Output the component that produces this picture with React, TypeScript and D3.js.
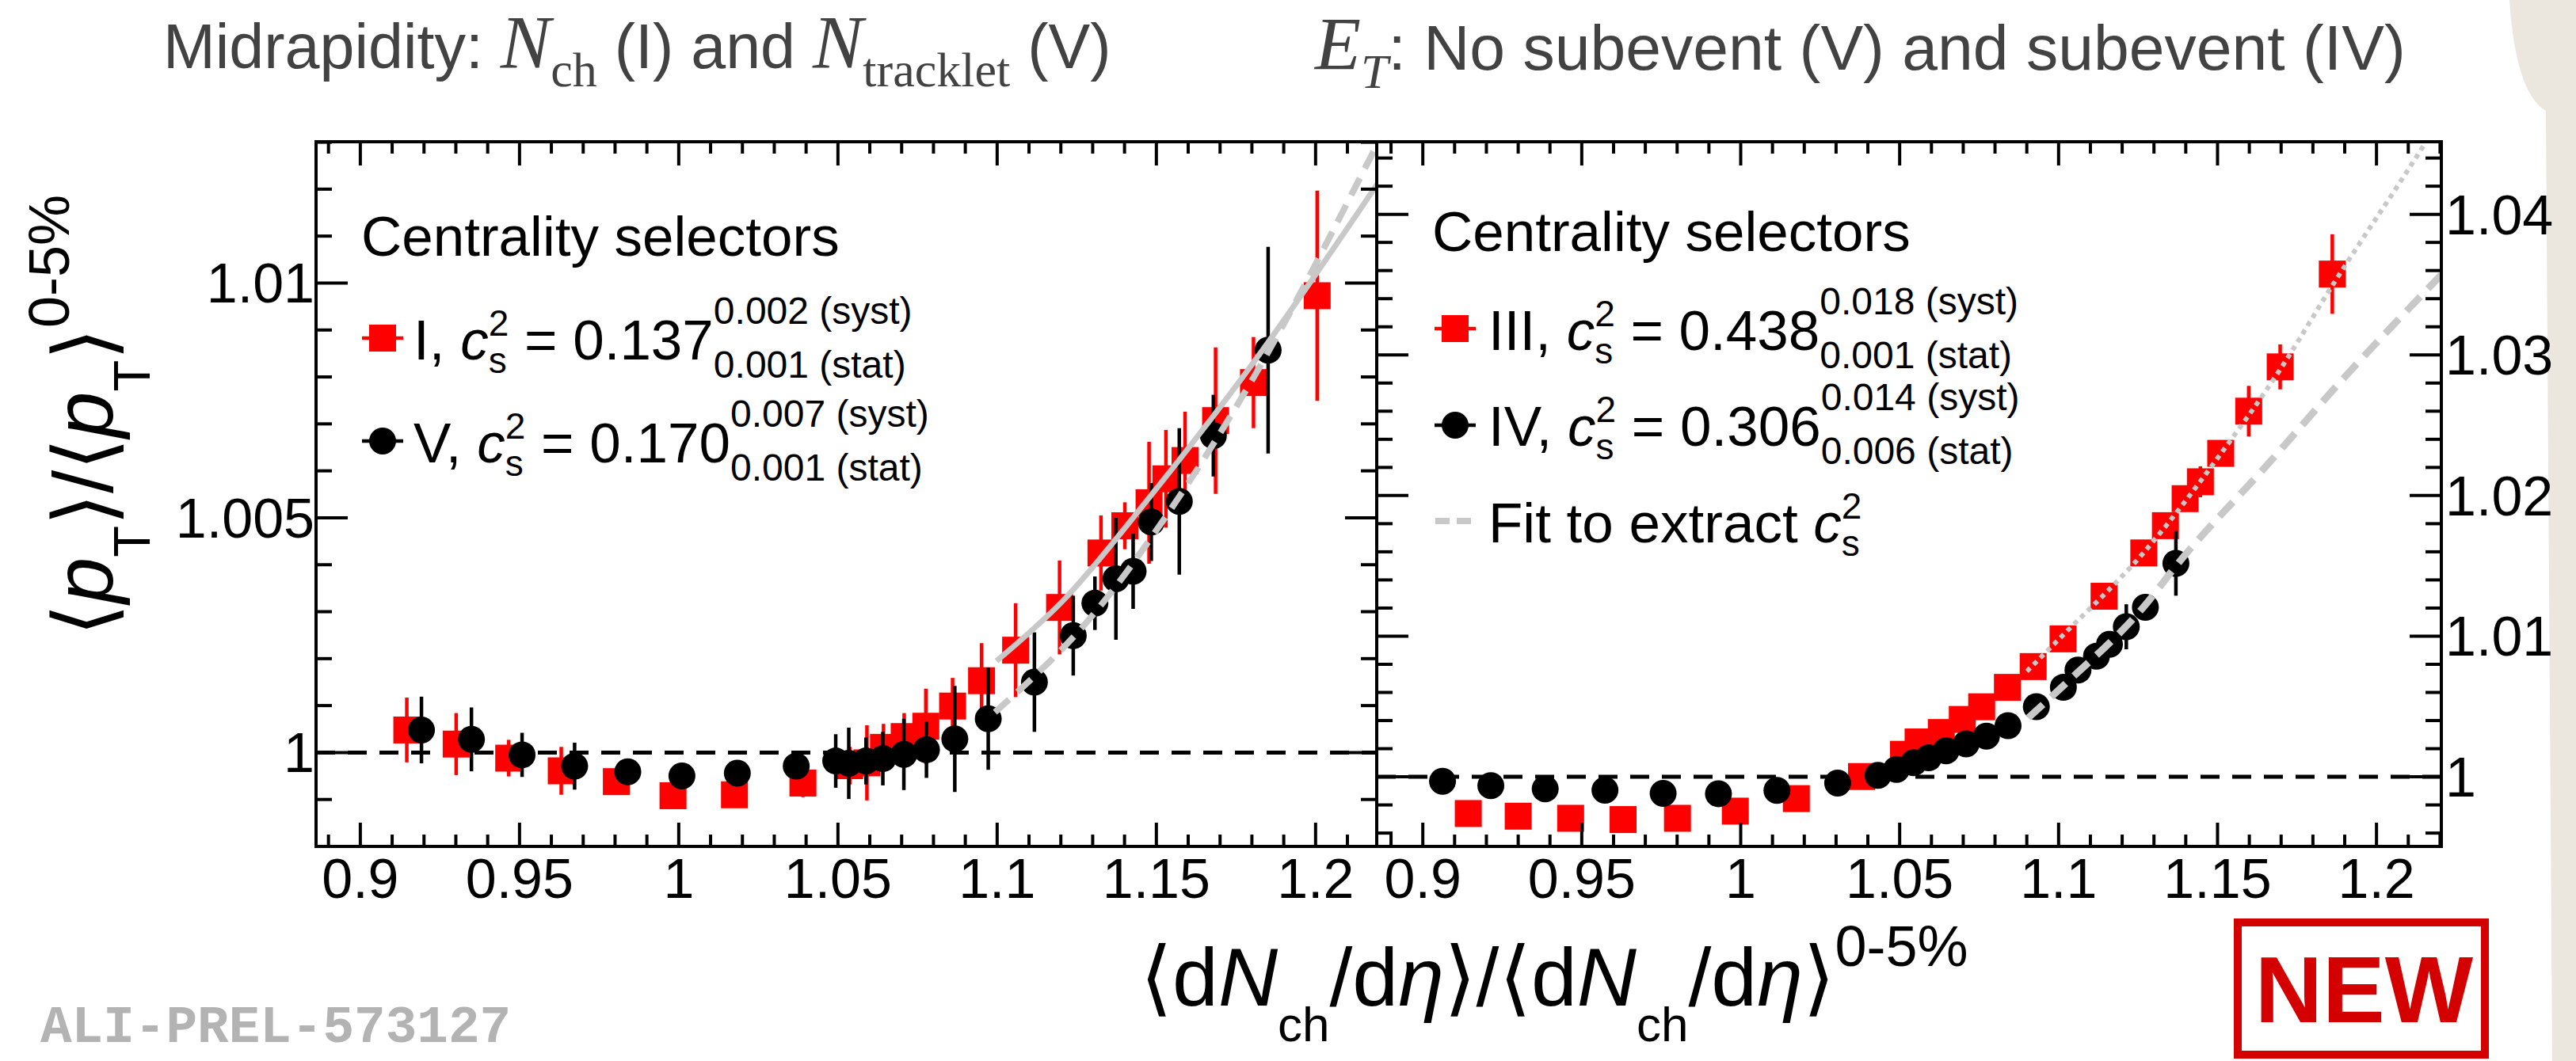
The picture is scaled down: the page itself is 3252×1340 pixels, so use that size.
import React from "react";
import * as d3 from "d3";

const SANS = "'Liberation Sans', 'DejaVu Sans', Arial, sans-serif";
const SERIF = "'Liberation Serif', 'DejaVu Serif', serif";
const MONO = "'Liberation Mono', 'DejaVu Sans Mono', monospace";

// ---------------- data ----------------
const xMajorTicks = [0.9, 0.95, 1.0, 1.05, 1.1, 1.15, 1.2];
const xTickLabels = ["0.9", "0.95", "1", "1.05", "1.1", "1.15", "1.2"];
const leftYTicks = [1.0, 1.005, 1.01];
const leftYTickLabels = ["1", "1.005", "1.01"];
const rightYTicks = [1.0, 1.01, 1.02, 1.03, 1.04];
const rightYTickLabels = ["1", "1.01", "1.02", "1.03", "1.04"];

// Left panel — selector I (red squares)
const selIx = [0.9146, 0.9301, 0.9466, 0.9631, 0.9804, 0.9982, 1.0175, 1.039, 1.0537, 1.0591, 1.0643, 1.0708, 1.0776, 1.086, 1.0951, 1.1058, 1.1196, 1.1326, 1.1401, 1.1477, 1.153, 1.159, 1.1686, 1.1805, 1.2005];
const selIy = [1.00048, 1.00018, 0.99988, 0.99961, 0.99938, 0.99908, 0.9991, 0.99935, 0.99972, 0.99978, 1.00011, 1.00034, 1.00056, 1.00099, 1.00153, 1.00218, 1.00309, 1.00425, 1.00483, 1.00532, 1.00583, 1.00622, 1.00707, 1.00788, 1.00973];
const selIerr = [0.00069, 0.00066, 0.00039, 0.00051, 0.0002, 0.0002, 0.0002, 0.0003, 0.0004, 0.0008, 0.0005, 0.0005, 0.0008, 0.0006, 0.0008, 0.001, 0.001, 0.0008, 0.0005, 0.0013, 0.00104, 0.00104, 0.00156, 0.00097, 0.00224];

// Left panel — selector V (black circles)
const selVx = [0.9192, 0.9349, 0.9508, 0.9673, 0.984, 1.001, 1.0184, 1.0369, 1.0493, 1.0534, 1.0588, 1.0641, 1.0707, 1.0778, 1.0867, 1.0972, 1.1117, 1.1239, 1.1307, 1.1373, 1.1427, 1.1484, 1.1572, 1.1679, 1.1851];
const selVy = [1.00048, 1.00028, 0.99995, 0.99971, 0.99959, 0.9995, 0.99956, 0.99971, 0.99982, 0.99977, 0.99982, 0.99987, 0.99996, 1.00006, 1.00029, 1.00072, 1.0015, 1.00249, 1.00318, 1.0037, 1.00386, 1.00491, 1.00535, 1.00675, 1.00857];
const selVerr = [0.00071, 0.00068, 0.00047, 0.0005, 0.0002, 0.0002, 0.0002, 0.0002, 0.00057, 0.00076, 0.0005, 0.00057, 0.00076, 0.0006, 0.00113, 0.00109, 0.00106, 0.00085, 0.00057, 0.0013, 0.0008, 0.00083, 0.00156, 0.00087, 0.0022];

// Right panel — selector III (red squares)
const selIIIx = [0.9143, 0.93, 0.9465, 0.963, 0.9801, 0.9983, 1.0175, 1.038, 1.0512, 1.0558, 1.0631, 1.0697, 1.0758, 1.0839, 1.092, 1.1014, 1.1143, 1.1268, 1.1336, 1.1398, 1.1446, 1.151, 1.1598, 1.1697, 1.1861];
const selIIIy = [0.99739, 0.9972, 0.99705, 0.99696, 0.99705, 0.99756, 0.99845, 1.00002, 1.0016, 1.00248, 1.00315, 1.00408, 1.00498, 1.00636, 1.00784, 1.00981, 1.01284, 1.01592, 1.01786, 1.01978, 1.02098, 1.023, 1.026, 1.02915, 1.03575];
const selIIIerr = [0.0003, 0.0003, 0.0003, 0.0003, 0.0003, 0.0003, 0.0003, 0.0003, 0.0004, 0.0004, 0.0004, 0.0004, 0.0004, 0.0005, 0.0005, 0.0006, 0.0006, 0.0008, 0.0008, 0.0008, 0.0011, 0.0009, 0.0018, 0.0016, 0.00283];

// Right panel — selector IV (black circles)
const selIVx = [0.9062, 0.9214, 0.9385, 0.9573, 0.9756, 0.993, 1.0114, 1.0305, 1.0432, 1.049, 1.0544, 1.0591, 1.0646, 1.0709, 1.0773, 1.0841, 1.093, 1.1015, 1.1061, 1.1119, 1.116, 1.1213, 1.1273, 1.1369];
const selIVy = [0.99968, 0.99937, 0.99915, 0.99905, 0.99882, 0.9988, 0.99903, 0.99955, 1.0001, 1.00052, 1.001, 1.00135, 1.00185, 1.00234, 1.00289, 1.00364, 1.00499, 1.00636, 1.00759, 1.00857, 1.00942, 1.01067, 1.01205, 1.01518];
const selIVerr = [0.0003, 0.0003, 0.0003, 0.0003, 0.0003, 0.0003, 0.0003, 0.0003, 0.0003, 0.0003, 0.0003, 0.0003, 0.0003, 0.0003, 0.0003, 0.0004, 0.0004, 0.0005, 0.0005, 0.0006, 0.0006, 0.0016, 0.0007, 0.0023];

// Fit curves
const fitIx = [1.0998, 1.1206, 1.1474, 1.1818, 1.2176, 1.2195];
const fitIy = [1.00195, 1.00323, 1.0054, 1.00843, 1.01193, 1.01212];
const fitVx = [1.0993, 1.1308, 1.1558, 1.1819, 1.2188, 1.225];
const fitVy = [1.00086, 1.00299, 1.00531, 1.00815, 1.01288, 1.0137];
const fitIIIx = [1.09, 1.1015, 1.1266, 1.1511, 1.1698, 1.1863, 1.2157, 1.222];
const fitIIIy = [1.0075, 1.0101, 1.0159, 1.023, 1.029, 1.035, 1.0452, 1.0475];
const fitIVx = [1.0905, 1.1016, 1.1272, 1.1373, 1.1657, 1.1887, 1.2204];
const fitIVy = [1.0042, 1.0065, 1.0122, 1.0151, 1.0222, 1.0281, 1.0357];

// ---------------- layout ----------------
const FR = { top: 179, bottom: 1069 };
const LP = { x0: 399, x1: 1738 };
const RP = { x0: 1738, x1: 3082 };
const RED = "#ff0000";
const FITGRAY = "#c8c8c8";

// ---------------- rich text ----------------
type Part = { t: string; size: number; dy?: number; italic?: boolean; bold?: boolean; family?: string; fill?: string };
type Seg = Part | { stack: Part[] };

let _ctx: any = null;
function textWidth(p: Part) {
  if (!_ctx) _ctx = document.createElement("canvas").getContext("2d");
  _ctx.font = `${p.italic ? "italic " : ""}${p.bold ? "bold " : ""}${p.size}px ${p.family || SANS}`;
  return _ctx.measureText(p.t).width;
}
function layout(segs: Seg[]) {
  const out: any[] = [];
  let x = 0;
  for (const s of segs) {
    if ((s as any).stack) {
      let w = 0;
      for (const p of (s as any).stack as Part[]) {
        out.push({ ...p, x });
        w = Math.max(w, textWidth(p));
      }
      x += w;
    } else {
      out.push({ ...(s as Part), x });
      x += textWidth(s as Part);
    }
  }
  return { items: out, width: x };
}
function RichText({ x, y, segs, anchor = "start", fill = "#000" }: any) {
  const { items, width } = layout(segs);
  const x0 = anchor === "middle" ? x - width / 2 : anchor === "end" ? x - width : x;
  return (
    <g>
      {items.map((p: any, i: number) => (
        <text
          key={i}
          x={x0 + p.x}
          y={y + (p.dy || 0)}
          fontSize={p.size}
          fontStyle={p.italic ? "italic" : "normal"}
          fontWeight={p.bold ? "bold" : "normal"}
          fontFamily={p.family || SANS}
          fill={p.fill || fill}
          xmlSpace="preserve"
          style={{ whiteSpace: "pre" }}
        >
          {p.t}
        </text>
      ))}
    </g>
  );
}

function Square({ cx, cy, s = 34, fill = RED }: any) {
  return <rect x={cx - s / 2} y={cy - s / 2} width={s} height={s} fill={fill} />;
}
function Dot({ cx, cy, r = 17 }: any) {
  return <circle cx={cx} cy={cy} r={r} fill="#000" />;
}

function Panel({ id, px, py, x0, x1, red, black, fits, yMajor, yLabels, yMinorStep, labelSide }: any) {
  const top = FR.top, bottom = FR.bottom;
  const [dx0, dx1] = px.domain();
  const [dy0, dy1] = py.domain();
  const xMinor = d3.range(89, 123).filter((i) => i % 5 !== 0).map((i) => i / 100).filter((v) => v > dx0 && v < dx1);
  const yMinor = d3
    .range(990, 1050)
    .filter((i) => i % yMinorStep === 0 && i % (yMinorStep * 5) !== 0)
    .map((i) => i / 1000)
    .filter((v) => v > dy0 && v < dy1);
  const lineGen = d3
    .line<number>()
    .x((d: any) => px(d[0]))
    .y((d: any) => py(d[1]))
    .curve(d3.curveMonotoneX);

  return (
    <g>
      <defs>
        <clipPath id={id}>
          <rect x={x0} y={top} width={x1 - x0} height={bottom - top} />
        </clipPath>
      </defs>
      <g clipPath={`url(#${id})`}>
        <line x1={x0} x2={x1} y1={py(1)} y2={py(1)} stroke="#000" strokeWidth={5} strokeDasharray="24 16" />
        {red.x.map((xv: number, i: number) => (
          <line key={"re" + i} x1={px(xv)} x2={px(xv)} y1={py(red.y[i] - red.e[i])} y2={py(red.y[i] + red.e[i])} stroke={RED} strokeWidth={4.5} />
        ))}
        {red.x.map((xv: number, i: number) => (
          <Square key={"rs" + i} cx={px(xv)} cy={py(red.y[i])} />
        ))}
        {black.x.map((xv: number, i: number) => (
          <line key={"be" + i} x1={px(xv)} x2={px(xv)} y1={py(black.y[i] - black.e[i])} y2={py(black.y[i] + black.e[i])} stroke="#000" strokeWidth={4.5} />
        ))}
        {black.x.map((xv: number, i: number) => (
          <Dot key={"bd" + i} cx={px(xv)} cy={py(black.y[i])} />
        ))}
        {fits.map((f: any, k: number) => (
          <path
            key={"fit" + k}
            d={lineGen(f.x.map((v: number, i: number) => [v, f.y[i]]) as any) as string}
            fill="none"
            stroke={FITGRAY}
            strokeWidth={f.w}
            strokeDasharray={f.dash}
          />
        ))}
      </g>
      {/* ticks */}
      {xMajorTicks.map((v) => (
        <g key={"xm" + v}>
          <line x1={px(v)} x2={px(v)} y1={bottom} y2={bottom - 30} stroke="#000" strokeWidth={4} />
          <line x1={px(v)} x2={px(v)} y1={top} y2={top + 30} stroke="#000" strokeWidth={4} />
        </g>
      ))}
      {xMinor.map((v) => (
        <g key={"xn" + v}>
          <line x1={px(v)} x2={px(v)} y1={bottom} y2={bottom - 15} stroke="#000" strokeWidth={4} />
          <line x1={px(v)} x2={px(v)} y1={top} y2={top + 15} stroke="#000" strokeWidth={4} />
        </g>
      ))}
      {yMajor.map((v: number) => (
        <g key={"ym" + v}>
          <line x1={x0} x2={x0 + 40} y1={py(v)} y2={py(v)} stroke="#000" strokeWidth={4} />
          <line x1={x1} x2={x1 - 40} y1={py(v)} y2={py(v)} stroke="#000" strokeWidth={4} />
        </g>
      ))}
      {yMinor.map((v: number) => (
        <g key={"yn" + v}>
          <line x1={x0} x2={x0 + 20} y1={py(v)} y2={py(v)} stroke="#000" strokeWidth={4} />
          <line x1={x1} x2={x1 - 20} y1={py(v)} y2={py(v)} stroke="#000" strokeWidth={4} />
        </g>
      ))}
      <rect x={x0} y={top} width={x1 - x0} height={bottom - top} fill="none" stroke="#000" strokeWidth={4} />
      {/* labels */}
      {xMajorTicks.map((v, i) => (
        <text key={"xl" + v} x={px(v)} y={1134} fontSize={70} fontFamily={SANS} textAnchor="middle" fill="#000">
          {xTickLabels[i]}
        </text>
      ))}
      {yMajor.map((v: number, i: number) => (
        <text
          key={"yl" + v}
          x={labelSide === "left" ? x0 - 2 : x1 + 5}
          y={py(v) + 25}
          fontSize={70}
          fontFamily={SANS}
          textAnchor={labelSide === "left" ? "end" : "start"}
          fill="#000"
        >
          {yLabels[i]}
        </text>
      ))}
    </g>
  );
}

function LegendMarker({ x, y, kind }: any) {
  const color = kind === "square" ? RED : "#000";
  return (
    <g>
      <line x1={x - 26} x2={x + 26} y1={y} y2={y} stroke={color} strokeWidth={4.5} />
      {kind === "square" ? <Square cx={x} cy={y} /> : <Dot cx={x} cy={y} />}
    </g>
  );
}

function entrySegs(name: string, val: string, up: string, down: string): Seg[] {
  return [
    { t: name + ", ", size: 71 },
    { t: "c", size: 71, italic: true },
    { stack: [{ t: "2", size: 46, dy: -30 }, { t: "s", size: 46, dy: 17 }] },
    { t: " = " + val, size: 71 },
    { stack: [{ t: up, size: 48, dy: -44.6 }, { t: down, size: 48, dy: 23.4 }] },
  ];
}

export default function App() {
  const xL = d3.scaleLinear().domain([0.8861, 1.2192]).range([LP.x0, LP.x1]);
  const yL = d3.scaleLinear().domain([0.998, 1.01301]).range([FR.bottom, FR.top]);
  const xR = d3.scaleLinear().domain([0.8855, 1.2204]).range([RP.x0, RP.x1]);
  const yR = d3.scaleLinear().domain([0.99505, 1.04516]).range([FR.bottom, FR.top]);

  const titleGray = "#424242";

  return (
    <svg width={3252} height={1340} style={{ position: "absolute", left: 0, top: 0, display: "block" }}>
      <rect x={0} y={0} width={3252} height={1340} fill="#ffffff" />
      <path d="M3168,0 L3252,0 L3252,1340 L3222,1340 L3214,140 Q3176,118 3168,0 Z" fill="#ebe6de" />

      {/* top titles */}
      <RichText
        x={206}
        y={86}
        fill={titleGray}
        segs={[
          { t: "Midrapidity: ", size: 79 },
          { t: "N", size: 95, italic: true, family: SERIF },
          { t: "ch", size: 62, dy: 23, family: SERIF },
          { t: " (I) and ", size: 79 },
          { t: "N", size: 95, italic: true, family: SERIF },
          { t: "tracklet", size: 62, dy: 23, family: SERIF },
          { t: " (V)", size: 79 },
        ]}
      />
      <RichText
        x={1660}
        y={88}
        fill={titleGray}
        segs={[
          { t: "E", size: 95, italic: true, family: SERIF },
          { t: "T", size: 62, dy: 23, italic: true, family: SERIF },
          { t: ": No subevent (V) and subevent (IV)", size: 80.5 },
        ]}
      />

      <Panel
        id="clipL"
        px={xL}
        py={yL}
        x0={LP.x0}
        x1={LP.x1}
        red={{ x: selIx, y: selIy, e: selIerr }}
        black={{ x: selVx, y: selVy, e: selVerr }}
        fits={[
          { x: fitIx, y: fitIy, w: 7, dash: null },
          { x: fitVx, y: fitVy, w: 8, dash: "24 14" },
        ]}
        yMajor={leftYTicks}
        yLabels={leftYTickLabels}
        yMinorStep={1}
        labelSide="left"
      />
      <Panel
        id="clipR"
        px={xR}
        py={yR}
        x0={RP.x0}
        x1={RP.x1}
        red={{ x: selIIIx, y: selIIIy, e: selIIIerr }}
        black={{ x: selIVx, y: selIVy, e: selIVerr }}
        fits={[
          { x: fitIIIx, y: fitIIIy, w: 6, dash: "6 6" },
          { x: fitIVx, y: fitIVy, w: 9, dash: "25 14" },
        ]}
        yMajor={rightYTicks}
        yLabels={rightYTickLabels}
        yMinorStep={2}
        labelSide="right"
      />

      {/* left legend */}
      <text x={456} y={323} fontSize={71} fontFamily={SANS} fill="#000">Centrality selectors</text>
      <LegendMarker x={483} y={427} kind="square" />
      <RichText x={522} y={453.6} segs={entrySegs("I", "0.137", "0.002 (syst)", "0.001 (stat)")} />
      <LegendMarker x={483} y={557} kind="circle" />
      <RichText x={522} y={584} segs={entrySegs("V", "0.170", "0.007 (syst)", "0.001 (stat)")} />

      {/* right legend */}
      <text x={1808} y={317} fontSize={71} fontFamily={SANS} fill="#000">Centrality selectors</text>
      <LegendMarker x={1837} y={415} kind="square" />
      <RichText x={1879} y={441.7} segs={entrySegs("III", "0.438", "0.018 (syst)", "0.001 (stat)")} />
      <LegendMarker x={1837} y={537} kind="circle" />
      <RichText x={1879} y={563} segs={entrySegs("IV", "0.306", "0.014 (syst)", "0.006 (stat)")} />
      <line x1={1812} x2={1863} y1={658} y2={658} stroke={FITGRAY} strokeWidth={8} strokeDasharray="18 9" />
      <RichText
        x={1879}
        y={685}
        segs={[
          { t: "Fit to extract ", size: 71 },
          { t: "c", size: 71, italic: true },
          { stack: [{ t: "2", size: 46, dy: -30 }, { t: "s", size: 46, dy: 17 }] },
        ]}
      />

      {/* axis titles */}
      <g transform="translate(142,524.5) rotate(-90)">
        <RichText
          x={0}
          y={0}
          anchor="middle"
          segs={[
            { t: "\u27E8", size: 105 },
            { t: "p", size: 105, italic: true },
            { t: "T", size: 65, dy: 47 },
            { t: "\u27E9/\u27E8", size: 105 },
            { t: "p", size: 105, italic: true },
            { t: "T", size: 65, dy: 47 },
            { t: "\u27E9", size: 105 },
            { t: "0-5%", size: 72, dy: -55 },
          ]}
        />
      </g>
      <RichText
        x={1962}
        y={1270}
        anchor="middle"
        segs={[
          { t: "\u27E8d", size: 104 },
          { t: "N", size: 104, italic: true },
          { t: "ch", size: 62, dy: 45 },
          { t: "/d", size: 104 },
          { t: "\u03B7", size: 104, italic: true },
          { t: "\u27E9/\u27E8d", size: 104 },
          { t: "N", size: 104, italic: true },
          { t: "ch", size: 62, dy: 45 },
          { t: "/d", size: 104 },
          { t: "\u03B7", size: 104, italic: true },
          { t: "\u27E9", size: 104 },
          { t: "0-5%", size: 72, dy: -50 },
        ]}
      />

      {/* ALICE preliminary id */}
      <text x={51} y={1316} fontSize={66} fontFamily={MONO} fontWeight="bold" fill="#b3b3b3">
        ALI-PREL-573127
      </text>

      {/* NEW stamp */}
      <rect x={2825} y={1165} width={312} height={167} fill="#ffffff" stroke="#d40000" strokeWidth={10} />
      <text x={2984.5} y={1291} fontSize={118} fontFamily={SANS} fontWeight="bold" fill="#d40000" textAnchor="middle">
        NEW
      </text>
    </svg>
  );
}
